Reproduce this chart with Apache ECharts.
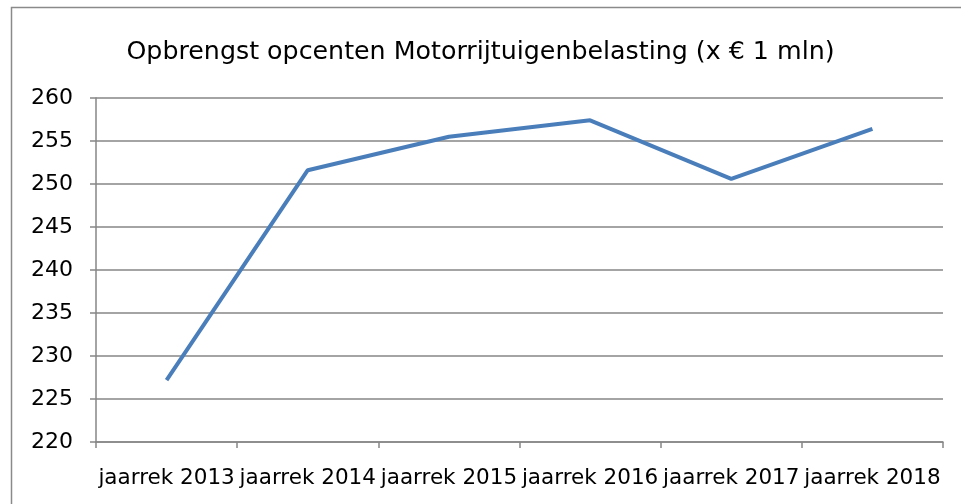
<!DOCTYPE html>
<html><head><meta charset="utf-8">
<style>html,body{margin:0;padding:0;background:#fff;}#c{width:961px;height:504px;}</style>
<script src="https://cdn.jsdelivr.net/npm/echarts@6/dist/echarts.min.js"></script>
</head><body><div id="c"></div>
<script>
const categories = ['jaarrek 2013','jaarrek 2014','jaarrek 2015','jaarrek 2016','jaarrek 2017','jaarrek 2018'];
const values = [227.2, 251.6, 255.5, 257.4, 250.6, 256.4];
const titleText = 'Opbrengst opcenten Motorrijtuigenbelasting (x € 1 mln)';
const yMin = 220, yMax = 260, yStep = 5;
const FONT = '"DejaVu Sans", sans-serif';
const chart = echarts.init(document.getElementById('c'), null, {renderer:'canvas'});
chart.setOption({
  animation:false,
  backgroundColor:'#fff',
  graphic:[{type:'rect',shape:{x:11.5,y:7.5,width:970,height:520},style:{fill:'none',stroke:'#8a8a8a',lineWidth:1.5},silent:true,z:-1}],
  title:{text:titleText,left:'center',top:35,textStyle:{fontFamily:FONT,fontWeight:'normal',fontSize:25.3,color:'#000'}},
  grid:{left:96,right:18,top:98,bottom:62,containLabel:false},
  xAxis:{type:'category',data:categories,boundaryGap:true,
    axisLine:{lineStyle:{color:'#868686',width:1.5}},
    axisTick:{show:true,length:6,lineStyle:{color:'#868686',width:1.5}},
    axisLabel:{interval:0,margin:25,fontFamily:FONT,fontSize:21.5,color:'#000'},
    splitLine:{show:false}},
  yAxis:{type:'value',min:yMin,max:yMax,interval:yStep,
    axisLine:{show:true,lineStyle:{color:'#868686',width:1.5}},
    axisTick:{show:true,length:6,lineStyle:{color:'#868686',width:1.5}},
    axisLabel:{margin:23,fontFamily:FONT,fontSize:22,color:'#000'},
    splitLine:{lineStyle:{color:'#868686',width:1.5}}},
  series:[{type:'line',data:values,symbol:'none',lineStyle:{color:'#4a7ebb',width:4},itemStyle:{color:'#4a7ebb'}}]
});
</script></body></html>
